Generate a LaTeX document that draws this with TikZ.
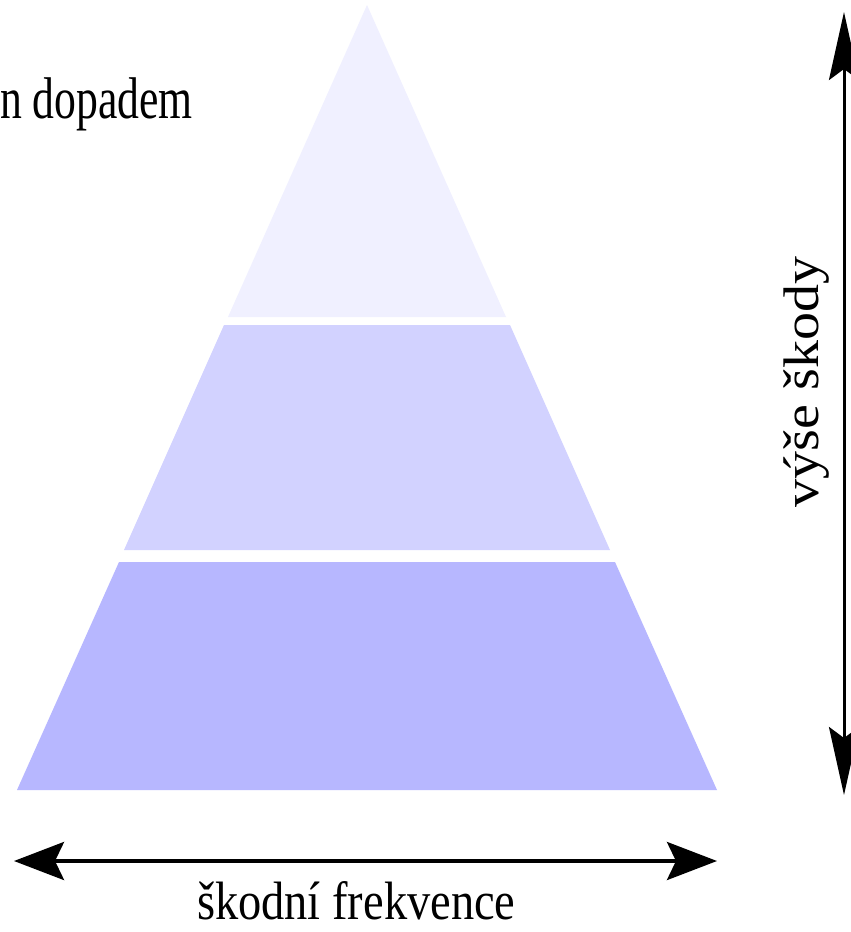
\documentclass[tikz,border=0pt]{standalone}
\usepackage{fontspec}
\setmainfont{Liberation Serif}
\usetikzlibrary{arrows.meta}
\definecolor{tiertop}{RGB}{240,240,255}
\definecolor{tiermid}{RGB}{210,210,255}
\definecolor{tierbot}{RGB}{183,183,255}
\tikzset{
  tier/.style={draw=none},
  axisarrow/.style={black, {Stealth[length=50pt,width=38pt,inset=9pt]}-{Stealth[length=50pt,width=38pt,inset=9pt]}},
  vaxisarrow/.style={black, {Stealth[length=68pt,width=30pt,inset=11pt]}-{Stealth[length=68pt,width=30pt,inset=11pt]}},
  lbl/.style={inner sep=0pt, outer sep=0pt, anchor=base west, text=black}
}
\begin{document}
\begin{tikzpicture}[x=1pt,y=-1pt]
\useasboundingbox (0,0) rectangle (851,932);
\fill[white] (0,0) rectangle (851,932);
% pyramid tiers
\fill[tier, tiertop] (367,5) -- (506,317) -- (228,317) -- cycle;
\fill[tier, tiermid] (224,325) -- (510,325) -- (610,550) -- (124,550) -- cycle;
\fill[tier, tierbot] (119,562) -- (615,562) -- (717,790) -- (17,790) -- cycle;
% axes
\coordinate (hl) at (14,861);
\coordinate (hr) at (717,861);
\coordinate (vt) at (844,12);
\coordinate (vb) at (844,795);
\draw[axisarrow, line width=4pt] (hl) -- (hr);
\draw[vaxisarrow, line width=3pt] (vb) -- (vt);
% labels
\node[lbl, font=\fontsize{54}{58}\selectfont] (freq) at (197,919) {\scalebox{0.86}[1]{škodní frekvence}};
\node[lbl, font=\fontsize{56}{60}\selectfont] (impact) at (0,118) {\scalebox{0.78}[1.05]{n dopadem}};
\node[lbl, rotate=90, font=\fontsize{50}{54}\selectfont] (height) at (818,507) {\scalebox{1.12}[1]{výše škody}};
\end{tikzpicture}
\end{document}
